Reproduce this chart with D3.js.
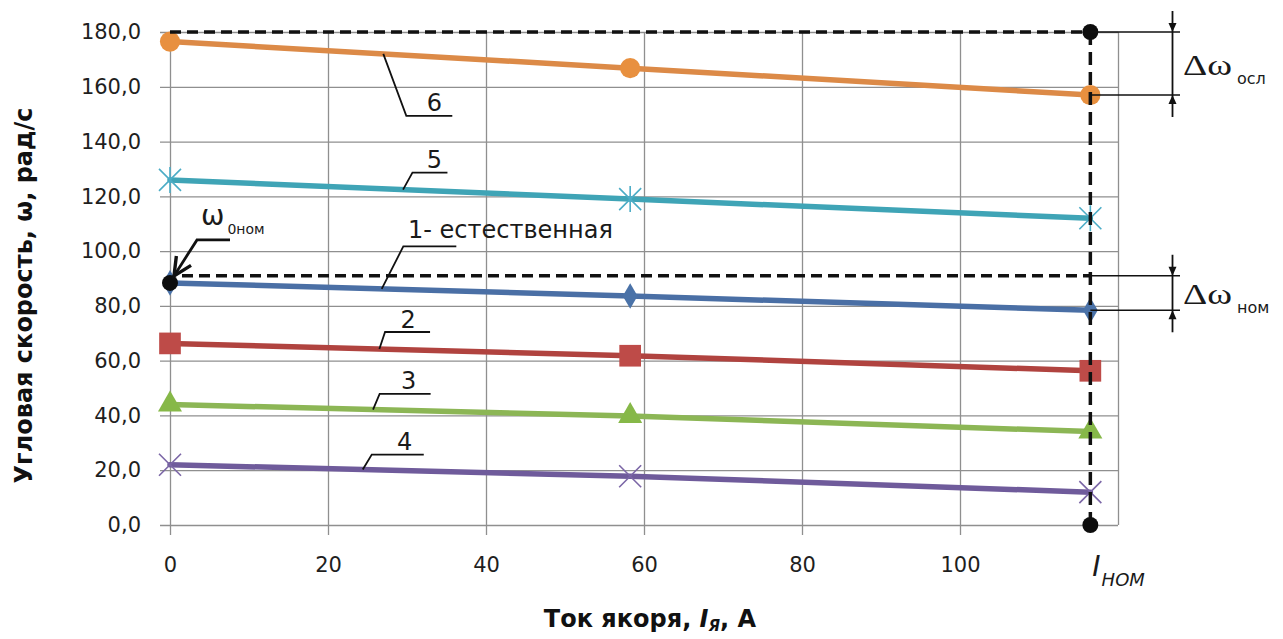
<!DOCTYPE html>
<html lang="ru">
<head>
<meta charset="utf-8">
<title>Механические характеристики двигателя</title>
<script src="https://cdn.jsdelivr.net/npm/d3@7"></script>
<style>
  html, body { margin: 0; padding: 0; background: #ffffff; }
  svg { display: block; }
  text { font-family: "DejaVu Sans", "Liberation Sans", sans-serif; }
</style>
</head>
<body>
<div id="chart"></div>
<script>
// Armature current, A (no-load, half-load, nominal)
const currentA = [0, 58.25, 116.5];

// Angular speed ω, rad/s, for each characteristic
const speed1 = [88.4, 83.6, 78.4];    // 1 – natural
const speed2 = [66.3, 61.8, 56.3];
const speed3 = [44.0, 39.8, 34.1];
const speed4 = [22.0, 17.8, 12.0];
const speed5 = [126.0, 119.0, 112.0];
const speed6 = [176.5, 166.8, 157.0];

const seriesLabels = ["1- естественная", "2", "3", "4", "5", "6"];
const seriesSpeeds = [speed1, speed2, speed3, speed4, speed5, speed6];
// Current at which each numbered leader touches its line
const labelAtCurrent = [26.8, 26.5, 25.7, 24.4, 29.5, 27.0];

const xTickValues = [0, 20, 40, 60, 80, 100];
const yTickValues = [0, 20, 40, 60, 80, 100, 120, 140, 160, 180];

const nominalCurrent = 116.5;   // I_ном
const omegaWeakNoLoad = 180;    // upper dashed level
const omegaNomNoLoad = 91;      // dashed level for Δω_ном
const omega0Nom = 88.4;         // ω_0ном point

// ---- layout and styles ----
const W = 1283, H = 639;
const plot = { left: 170, right: 1118, top: 32, bottom: 525 };
const styles = [
  { line: "#4a6fa5", fill: "#4a72a8", marker: "diamond" },
  { line: "#b0433f", fill: "#be4b48", marker: "square" },
  { line: "#8cb655", fill: "#86b848", marker: "triangle" },
  { line: "#6f5b9b", fill: "#7b66a6", marker: "x" },
  { line: "#3fa4b6", fill: "#4bacc6", marker: "star" },
  { line: "#dc8a47", fill: "#e8903f", marker: "circle" }
];
// leader geometry in px: elbow offset from the line, shelf length, text offset
const leaders = [
  { dx: 21.6, dy: -42.5, len: 53, tx: 4.7, ty: -8.5, anchor: "start" },
  { dx: 5.7, dy: -17, len: 45, tx: 23, ty: -4.5, anchor: "middle" },
  { dx: 6.6, dy: -15.6, len: 51, tx: 29, ty: -5, anchor: "middle" },
  { dx: 9, dy: -15, len: 52, tx: 33, ty: -5, anchor: "middle" },
  { dx: 9.4, dy: -17, len: 35, tx: 22, ty: -4.5, anchor: "middle" },
  { dx: 23, dy: 62, len: 46, tx: 28, ty: -4.5, anchor: "middle" }
];

const svg = d3.select("#chart").append("svg")
  .attr("width", W).attr("height", H)
  .attr("viewBox", `0 0 ${W} ${H}`);

const x = d3.scaleLinear().domain([0, 120]).range([plot.left, plot.right]);
const y = d3.scaleLinear().domain([0, 180]).range([plot.bottom, plot.top]);

const gridColor = "#8f8f8f";
const tickOut = 10;

// horizontal grid + y labels
const yAxis = d3.axisLeft(y)
  .tickValues(yTickValues)
  .tickSizeInner(-(plot.right - plot.left + tickOut))
  .tickSizeOuter(0)
  .tickPadding(19)
  .tickFormat(d => d3.format(".1f")(d).replace(".", ","));
const gy = svg.append("g")
  .attr("transform", `translate(${plot.left - tickOut},0)`)
  .call(yAxis);
gy.select(".domain").remove();
gy.selectAll(".tick line").attr("stroke", gridColor).attr("stroke-width", 1.3);
gy.selectAll(".tick text")
  .attr("font-size", 21).attr("fill", "#1e1e1e")
  .attr("font-family", "DejaVu Sans, sans-serif");

// vertical grid + x labels
const xAxis = d3.axisBottom(x)
  .tickValues(xTickValues.concat([120]))
  .tickSizeInner(-(plot.bottom - plot.top + tickOut))
  .tickSizeOuter(0)
  .tickPadding(22)
  .tickFormat(d => xTickValues.includes(d) ? d3.format("d")(d) : "");
const gx = svg.append("g")
  .attr("transform", `translate(0,${plot.bottom + tickOut})`)
  .call(xAxis);
gx.select(".domain").remove();
gx.selectAll(".tick line").attr("stroke", gridColor).attr("stroke-width", 1.3);
gx.selectAll(".tick text")
  .attr("font-size", 21).attr("fill", "#1e1e1e")
  .attr("font-family", "DejaVu Sans, sans-serif");
// the 120 gridline closes the plot but stops at the frame
gx.selectAll(".tick").filter(d => d === 120).select("line")
  .attr("y2", -(plot.bottom - plot.top + tickOut)).attr("y1", -tickOut);

// axis titles
svg.append("text")
  .attr("transform", `translate(32,${(plot.top + plot.bottom) / 2 + 17}) rotate(-90)`)
  .attr("text-anchor", "middle")
  .attr("font-size", 24).attr("font-weight", "bold").attr("fill", "#111")
  .text("Угловая скорость, ω, рад/с");

const xt = svg.append("text")
  .attr("x", 650).attr("y", 627)
  .attr("text-anchor", "middle")
  .attr("font-size", 24).attr("font-weight", "bold").attr("fill", "#111");
xt.append("tspan").text("Ток якоря, ");
xt.append("tspan").attr("font-style", "italic").text("I");
xt.append("tspan").attr("font-style", "italic").attr("font-size", 15).attr("dy", 4).text("Я");
xt.append("tspan").attr("dy", -4).text(", А");

// characteristic lines
const line = d3.line().x(d => x(d[0])).y(d => y(d[1]));

function markerPath(kind) {
  switch (kind) {
    case "circle": return d3.symbol(d3.symbolCircle, 320)();
    case "square": return d3.symbol(d3.symbolSquare, 470)();
    case "triangle": return d3.symbol(d3.symbolTriangle, 250)();
    case "diamond": return d3.symbol(d3.symbolDiamond, 190)();
    case "x": return "M-11,-11L11,11M-11,11L11,-11";
    case "star": return "M-11,-11L11,11M-11,11L11,-11M0,-13L0,13";
  }
}

seriesSpeeds.forEach((speeds, i) => {
  const pts = currentA.map((c, k) => [c, speeds[k]]);
  const st = styles[i];
  const g = svg.append("g");
  g.append("path").datum(pts)
    .attr("d", line)
    .attr("fill", "none")
    .attr("stroke", st.line)
    .attr("stroke-width", 5.5)
    .attr("stroke-linecap", "round");
  const stroked = st.marker === "x" || st.marker === "star";
  g.selectAll("path.mk").data(pts).join("path")
    .attr("class", "mk")
    .attr("transform", d => `translate(${x(d[0])},${y(d[1])})`)
    .attr("d", markerPath(st.marker))
    .attr("fill", stroked ? "none" : st.fill)
    .attr("stroke", stroked ? st.fill : "none")
    .attr("stroke-width", stroked ? 1.6 : 0);
});

// dashed construction lines
function dashed(x1, y1, x2, y2, da) {
  svg.append("line")
    .attr("x1", x1).attr("y1", y1).attr("x2", x2).attr("y2", y2)
    .attr("stroke", "#111").attr("stroke-width", 3.5)
    .attr("stroke-dasharray", da);
}
dashed(x(0), y(omegaWeakNoLoad), x(nominalCurrent), y(omegaWeakNoLoad), "11,6");
dashed(x(0) + 12, y(omegaNomNoLoad), x(nominalCurrent), y(omegaNomNoLoad), "11,6");
dashed(x(nominalCurrent), y(omegaWeakNoLoad), x(nominalCurrent), y(0), "13,7");

// key points
[[nominalCurrent, omegaWeakNoLoad], [nominalCurrent, 0], [0, omega0Nom]].forEach(p => {
  svg.append("circle")
    .attr("cx", x(p[0])).attr("cy", y(p[1])).attr("r", 8)
    .attr("fill", "#0d0d0d");
});

// numbered leaders
seriesSpeeds.forEach((speeds, i) => {
  const c = labelAtCurrent[i];
  const v = d3.scaleLinear().domain(currentA).range(speeds)(c);
  const ax = x(c), ay = y(v);
  const L = leaders[i];
  const ex = ax + L.dx, ey = ay + L.dy;
  svg.append("path")
    .attr("d", `M${ax},${ay}L${ex},${ey}L${ex + L.len},${ey}`)
    .attr("fill", "none").attr("stroke", "#111").attr("stroke-width", 1.8);
  svg.append("text")
    .attr("x", ex + L.tx).attr("y", ey + L.ty)
    .attr("text-anchor", L.anchor)
    .attr("font-size", 24).attr("fill", "#1a1a1a")
    .text(seriesLabels[i]);
});

// ω0ном pointer
{
  const px = x(0), py = y(omega0Nom);
  const tipX = px + 4, tipY = py - 7;
  const kx = px + 27, ky = py - 43;
  svg.append("path")
    .attr("d", `M${kx + 33},${ky}L${kx},${ky}L${tipX},${tipY}`)
    .attr("fill", "none").attr("stroke", "#111").attr("stroke-width", 2.8);
  const ang = Math.atan2(ky - tipY, kx - tipX);
  const wing = 20, spread = 0.45;
  const w1 = [tipX + wing * Math.cos(ang + spread), tipY + wing * Math.sin(ang + spread)];
  const w2 = [tipX + wing * Math.cos(ang - spread), tipY + wing * Math.sin(ang - spread)];
  svg.append("path")
    .attr("d", `M${w1[0]},${w1[1]}L${tipX},${tipY}L${w2[0]},${w2[1]}`)
    .attr("fill", "none").attr("stroke", "#111").attr("stroke-width", 3.4)
    .attr("stroke-linejoin", "miter");
  const t = svg.append("text").attr("x", px + 31).attr("y", ky - 15)
    .attr("font-size", 28).attr("fill", "#1a1a1a");
  t.append("tspan").text("ω");
  t.append("tspan").attr("font-size", 14).attr("dy", 9).attr("dx", 3).text("0ном");
}

// dimension marks Δω
function dimension(v1, v2, label, sub, textY) {
  const x0 = x(nominalCurrent), x1 = 1180, xd = 1172.5;
  const ya = y(v1), yb = y(v2);
  svg.append("line").attr("x1", x0).attr("x2", x1).attr("y1", ya).attr("y2", ya)
    .attr("stroke", "#111").attr("stroke-width", 1.6);
  svg.append("line").attr("x1", x0).attr("x2", x1).attr("y1", yb).attr("y2", yb)
    .attr("stroke", "#111").attr("stroke-width", 1.6);
  svg.append("line").attr("x1", xd).attr("x2", xd).attr("y1", ya - 21).attr("y2", yb + 22)
    .attr("stroke", "#111").attr("stroke-width", 1.8);
  svg.append("path")
    .attr("d", `M${xd},${ya}L${xd - 4},${ya - 9}L${xd + 4},${ya - 9}Z`).attr("fill", "#111");
  svg.append("path")
    .attr("d", `M${xd},${yb}L${xd - 4},${yb + 9}L${xd + 4},${yb + 9}Z`).attr("fill", "#111");
  const t = svg.append("text").attr("x", 1183).attr("y", textY)
    .attr("fill", "#1a1a1a");
  t.append("tspan").attr("font-size", 30)
    .attr("font-family", "Liberation Serif, serif")
    .attr("textLength", 49).attr("lengthAdjust", "spacingAndGlyphs").text(label);
  t.append("tspan").attr("font-size", 16).attr("dx", 5).attr("dy", 9).text(sub);
}
dimension(omegaWeakNoLoad, speed6[2], "Δω", "осл", 75);
dimension(omegaNomNoLoad, speed1[2], "Δω", "ном", 304);

// I_ном label on the current axis
{
  const t = svg.append("text").attr("x", x(nominalCurrent) + 2).attr("y", 576)
    .attr("fill", "#1a1a1a").attr("font-style", "italic");
  t.append("tspan").attr("font-size", 28).text("I");
  t.append("tspan").attr("font-size", 18).attr("dx", 1).attr("dy", 10).text("НОМ");
}
</script>
</body>
</html>
